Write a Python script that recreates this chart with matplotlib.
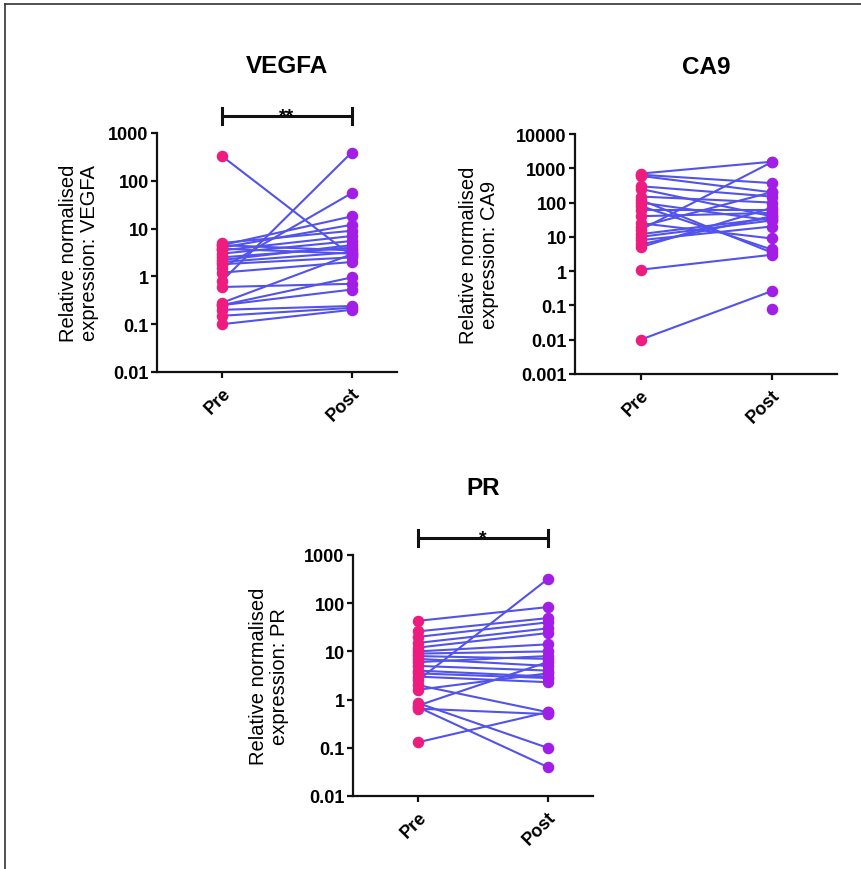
import matplotlib
matplotlib.use('Agg')
import matplotlib.pyplot as plt
import matplotlib.transforms as mtransforms
from matplotlib.lines import Line2D

plt.rcParams['font.family'] = ['Liberation Sans', 'DejaVu Sans']

W, H = 861, 870

groups = ['Pre', 'Post']

# paired values (pre, post)
vegfa_pre = [330, 0.8, 1.5, 4.5, 4.0, 5.0, 3.5, 3.0, 2.5, 4.5, 3.8,
             2.0, 1.8, 1.2, 0.6, 0.28, 0.25, 0.25, 0.2, 0.15, 0.1, 2.2]
vegfa_post = [2.7, 390, 55, 18, 12, 9, 7, 5.5, 4.0, 3.5, 3.0,
              3.2, 2.5, 2.0, 0.7, 2.9, 0.95, 0.53, 0.24, 0.22, 0.2, 4.5]

ca9_pre = [700, 16, 650, 600, 300, 250, 150, 120, 80, 100, 60,
           40, 25, 20, 10, 8, 6, 5, 12, 1.1, 0.01]
ca9_post = [1550, 1500, 370, 200, 150, 40, 100, 3.5, 4.3, 30, 60,
            50, 9, 200, 30, 20, 40, 70, 35, 3.0, 0.26]
ca9_post_single = [0.08]

pr_pre = [43, 2.5, 26, 20, 15, 12, 10, 9, 8, 7, 6,
          5, 4, 3.5, 3, 2, 0.85, 0.7, 0.65, 0.75, 0.13, 1.6]
pr_post = [83, 315, 49, 40, 30, 24, 14, 10, 7, 5, 8,
           4, 3, 2.8, 2.3, 0.55, 0.1, 0.04, 0.5, 6, 0.55, 3.5]

vegfa_ticks = [0.01, 0.1, 1, 10, 100, 1000]
vegfa_labels = ['0.01', '0.1', '1', '10', '100', '1000']
ca9_ticks = [0.001, 0.01, 0.1, 1, 10, 100, 1000, 10000]
ca9_labels = ['0.001', '0.01', '0.1', '1', '10', '100', '1000', '10000']
pr_ticks = vegfa_ticks
pr_labels = vegfa_labels

pre_c = '#EE1C7E'
post_c = '#A21EE6'
line_c = '#5252EC'

fig = plt.figure(figsize=(W / 100, H / 100), dpi=100)

# frame (top and left only)
fig.add_artist(Line2D([5 / W, 5 / W], [0, 1 - 5 / H], transform=fig.transFigure,
                      color='#333333', lw=1.2))
fig.add_artist(Line2D([5 / W, 1], [1 - 5 / H, 1 - 5 / H], transform=fig.transFigure,
                      color='#333333', lw=1.2))


def panel(box, xlim, ticks, labels, pre, post, title, ylab, lab_dx, sig=None, extra_post=None):
    l, t, r, b = box
    ax = fig.add_axes([l / W, 1 - b / H, (r - l) / W, (b - t) / H])
    hpx = b - t
    for a, p in zip(pre, post):
        ax.plot([0, 1], [a, p], color=line_c, lw=1.5, zorder=2, solid_capstyle='round')
    ax.plot([0] * len(pre), pre, 'o', color=pre_c, ms=7.3, zorder=3, clip_on=False)
    ax.plot([1] * len(post), post, 'o', color=post_c, ms=7.3, zorder=3, clip_on=False)
    if extra_post:
        ax.plot([1] * len(extra_post), extra_post, 'o', color=post_c, ms=7.3, zorder=3, clip_on=False)

    ax.set_yscale('log')
    ax.set_ylim(ticks[0], ticks[-1])
    ax.set_xlim(*xlim)
    ax.set_yticks(ticks)
    ax.set_yticklabels(labels)
    ax.minorticks_off()
    ax.set_xticks([0, 1])
    ax.set_xticklabels(groups, rotation=45, ha='right', rotation_mode='anchor')
    for s in ['top', 'right']:
        ax.spines[s].set_visible(False)
    for s in ['left', 'bottom']:
        ax.spines[s].set_linewidth(1.6)
        ax.spines[s].set_color('#111111')
    ax.tick_params(width=1.6, length=4, color='#111111', labelsize=13, pad=2)
    for lab in ax.get_xticklabels() + ax.get_yticklabels():
        lab.set_fontweight('bold')
    ax.tick_params(axis='x', pad=5)

    trans = mtransforms.blended_transform_factory(ax.transData, ax.transAxes)
    ax.text(0.5, 1 + 61 / hpx, title, transform=trans, ha='center', va='baseline',
            fontsize=17.5, fontweight='bold')
    ax.text(-lab_dx / (r - l), 0.5, ylab, transform=ax.transAxes, rotation=90,
            ha='center', va='center', fontsize=14.5, linespacing=1.15)
    if sig:
        yb = 1 + 17 / hpx
        cap = 8 / hpx
        ax.plot([0, 1], [yb, yb], color='#111111', lw=2.2, transform=trans, clip_on=False)
        for xe in (0, 1):
            ax.plot([xe, xe], [yb - cap, yb + cap], color='#111111', lw=2.2,
                    transform=trans, clip_on=False)
        ax.text(0.5, 1 + 13 / hpx, sig, transform=trans, ha='center', va='baseline',
                fontsize=14, fontweight='bold')
    return ax


panel((157, 134, 397, 373), (-0.5, 1.35), vegfa_ticks, vegfa_labels, vegfa_pre, vegfa_post,
      'VEGFA', 'Relative normalised\nexpression: VEGFA', 78, sig='**')
panel((575, 135, 837, 375), (-0.5, 1.5), ca9_ticks, ca9_labels, ca9_pre, ca9_post,
      'CA9', 'Relative normalised\nexpression: CA9', 96, extra_post=ca9_post_single)
panel((353, 556, 593, 797), (-0.5, 1.35), pr_ticks, pr_labels, pr_pre, pr_post,
      'PR', 'Relative normalised\nexpression: PR', 84, sig='*')

plt.savefig('out.png', dpi=100)
